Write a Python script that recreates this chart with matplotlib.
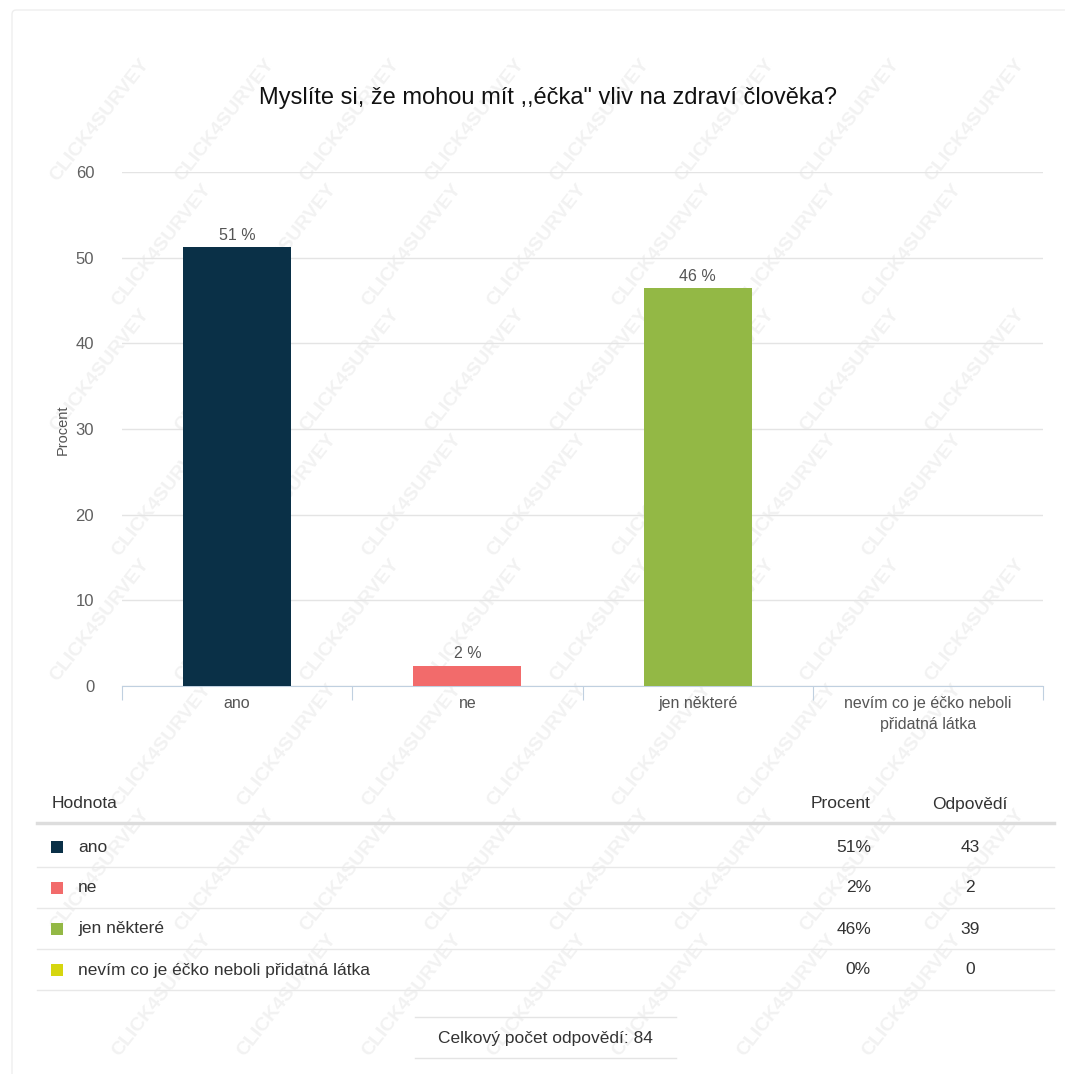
import matplotlib.pyplot as plt
import numpy as np
from matplotlib.patches import Rectangle, FancyBboxPatch
from matplotlib.lines import Line2D

W, H = 1065, 1074

title = 'Myslíte si, že mohou mít ,,éčka" vliv na zdraví člověka?'
categories = ['ano', 'ne', 'jen některé', 'nevím co je éčko neboli přidatná látka']
axis_labels = ['ano', 'ne', 'jen některé', 'nevím co je éčko neboli\npřidatná látka']
answers = [43, 2, 39, 0]
colors = ['#0a3047', '#f26b6b', '#93b845', '#d6d60f']
yticks = [0, 10, 20, 30, 40, 50, 60]

total = sum(answers)
percent = [100 * a / total for a in answers]

plt.rcParams['font.family'] = ['Liberation Sans', 'DejaVu Sans']

fig = plt.figure(figsize=(W / 100, H / 100), dpi=100)
fig.patch.set_facecolor('white')


def fx(px):
    return px / W


def fy(py):
    return 1 - py / H


# panel frame
fig.patches.append(FancyBboxPatch((fx(12), fy(1100)), fx(1100), (1100 - 10) / H,
                                  boxstyle='round,pad=0,rounding_size=0.004',
                                  transform=fig.transFigure, fc='white',
                                  ec='#eeeeee', lw=1, zorder=-3))

# background stamp, kept clear of the edges
for row in range(8):
    for col in range(8):
        x = 100 + col * 125 + (row % 2) * 62
        y = 120 + row * 125
        if x > 990 or y > 1000:
            continue
        fig.text(fx(x), fy(y), 'CLICK4SURVEY', rotation=52, fontsize=14,
                 fontweight='bold', color='#f2f2f2', ha='center', va='center',
                 zorder=-2)

fig.text(fx(548), fy(98), title, ha='center', va='center', fontsize=17, color='#111111')

ax = fig.add_axes([fx(122), fy(686), (1043 - 122) / W, (686 - 172) / H])
ax.patch.set_alpha(0)
x = np.arange(len(categories))
ax.bar(x, percent, width=0.47, color=colors, zorder=3)
for i, p in enumerate(percent):
    if answers[i] > 0:
        ax.text(i, p + 0.5, f'{p:.0f} %', ha='center', va='bottom',
                fontsize=11.5, color='#555555', zorder=4)

ax.set_xlim(-0.5, len(categories) - 0.5)
ax.set_ylim(0, 60)
ax.set_yticks(yticks)
ax.yaxis.grid(True, color='#e4e4e4', lw=1)
ax.set_axisbelow(True)
for side in ['left', 'right', 'top']:
    ax.spines[side].set_visible(False)
ax.spines['bottom'].set_color('#c0d0e0')
ax.tick_params(axis='y', length=0, pad=20, labelsize=12, labelcolor='#606060')
ax.set_xticks(np.arange(len(categories) + 1) - 0.5)
ax.set_xticklabels([])
ax.tick_params(axis='x', which='major', length=10, color='#c0d0e0')
ax.set_xticks(x, minor=True)
ax.set_xticklabels(axis_labels, minor=True, linespacing=1.5)
ax.tick_params(axis='x', which='minor', length=0, pad=7, labelsize=11.5,
               labelcolor='#555555')

fig.text(fx(63), fy(430), 'Procent', rotation=90, ha='center', va='center',
         fontsize=10.5, color='#555555')

# table below the chart
tc = '#333333'
fs = 12.5
fig.text(fx(52), fy(804), 'Hodnota', ha='left', va='center', fontsize=fs, color=tc)
fig.text(fx(871), fy(804), 'Procent', ha='right', va='center', fontsize=fs, color=tc)
fig.text(fx(970), fy(804), 'Odpovědí', ha='center', va='center', fontsize=fs, color=tc)
fig.lines.append(Line2D([fx(37), fx(1054)], [fy(823), fy(823)], transform=fig.transFigure,
                        color='#dddddd', lw=2.5))

row_y = [847, 888, 929, 970]
for i, cat in enumerate(categories):
    ry = row_y[i]
    fig.patches.append(Rectangle((fx(51), fy(ry + 6)), 12 / W, 12 / H,
                                 transform=fig.transFigure, fc=colors[i], ec='none'))
    fig.text(fx(78), fy(ry), cat, ha='left', va='center', fontsize=fs, color=tc)
    fig.text(fx(871), fy(ry), f'{percent[i]:.0f}%', ha='right', va='center',
             fontsize=fs, color=tc)
    fig.text(fx(970), fy(ry), str(answers[i]), ha='center', va='center',
             fontsize=fs, color=tc)
    fig.lines.append(Line2D([fx(37), fx(1054)], [fy(ry + 20), fy(ry + 20)],
                            transform=fig.transFigure, color='#e8e8e8', lw=1))

fig.text(fx(545), fy(1038), f'Celkový počet odpovědí: {total}', ha='center', va='center',
         fontsize=fs, color=tc)
for ly in [1017, 1058]:
    fig.lines.append(Line2D([fx(415), fx(676)], [fy(ly), fy(ly)], transform=fig.transFigure,
                            color='#e4e4e4', lw=1))

fig.savefig('out.png', dpi=100)
